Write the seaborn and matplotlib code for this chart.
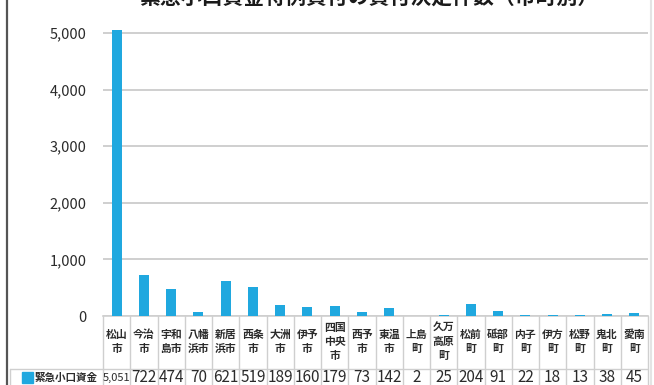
import matplotlib
matplotlib.use("Agg")
import matplotlib.pyplot as plt
from matplotlib.lines import Line2D
from matplotlib.patches import Rectangle
import seaborn as sns
import pandas as pd

# Municipalities (labels wrapped the way they appear in the table header)
municipalities = [
    "松山\n市", "今治\n市", "宇和\n島市", "八幡\n浜市", "新居\n浜市", "西条\n市",
    "大洲\n市", "伊予\n市", "四国\n中央\n市", "西予\n市", "東温\n市", "上島\n町",
    "久万\n高原\n町", "松前\n町", "砥部\n町", "内子\n町", "伊方\n町", "松野\n町",
    "鬼北\n町", "愛南\n町",
]
# Number of approved loan decisions (emergency small-amount fund)
loan_counts = [5051, 722, 474, 70, 621, 519, 189, 160, 179, 73,
               142, 2, 25, 204, 91, 22, 18, 13, 38, 45]
series_name = "緊急小口資金"
title = "緊急小口資金特例貸付の貸付決定件数（市町別）"
y_ticks = [0, 1000, 2000, 3000, 4000, 5000]

sns.set_theme(style="white")
plt.rcParams["font.family"] = ["Noto Sans CJK JP", "DejaVu Sans"]

BAR = "#20a8df"
GRID = "#cfcfcf"
TEXT = "#2b2b2b"

W, H = 654, 385
fig = plt.figure(figsize=(W / 100, H / 100), dpi=100)
fig.patch.set_facecolor("white")


def fx(x):
    return x / W


def fy(y):
    return 1 - y / H


left_px, right_px, top_px, bottom_px = 103, 648, 21.7, 316
ax = fig.add_axes([fx(left_px), fy(bottom_px), fx(right_px - left_px),
                   (bottom_px - top_px) / H])

df = pd.DataFrame({"市町": municipalities, "件数": loan_counts})
sns.barplot(data=df, x="市町", y="件数", color=BAR, width=0.36,
            saturation=1, linewidth=0, ax=ax)
for bar in ax.patches:
    bar.set_zorder(3)

n = len(municipalities)
ax.set_xlim(-0.5, n - 0.5)
ax.set_ylim(0, 5200)
ax.set_yticks(y_ticks)
ax.set_yticklabels([f"{v:,}" for v in y_ticks], fontsize=10.5, color=TEXT)
ax.tick_params(axis="y", length=0, pad=12)
ax.set_xticks([])
ax.set_xlabel("")
ax.set_ylabel("")
ax.yaxis.grid(True, color=GRID, linewidth=1.4)
ax.set_axisbelow(True)
for side in ("top", "right", "left"):
    ax.spines[side].set_visible(False)
ax.spines["bottom"].set_color(GRID)
ax.spines["bottom"].set_linewidth(1.2)

# Title (sits at the very top edge of the figure)
fig.text(fx(369), fy(-2), title, ha="center", va="center",
         fontsize=15, fontweight="bold", color="#1a1a1a")

# Data table under the axis
col_w = (right_px - left_px) / n
line_kw = dict(color=GRID, linewidth=1.0, transform=fig.transFigure)
for i in range(n + 1):
    x = left_px + i * col_w
    fig.add_artist(Line2D([fx(x), fx(x)], [fy(bottom_px), fy(H)], **line_kw))
fig.add_artist(Line2D([fx(10), fx(right_px)], [fy(369), fy(369)], **line_kw))
fig.add_artist(Line2D([fx(10), fx(10)], [fy(369), fy(H)], **line_kw))

for i, (name, val) in enumerate(zip(municipalities, loan_counts)):
    cx = left_px + (i + 0.5) * col_w
    fig.text(fx(cx), fy(342), name, ha="center", va="center", fontsize=7.8,
             fontweight="bold", color=TEXT, linespacing=1.55)
    small = val >= 1000
    fig.text(fx(cx), fy(377.5), f"{val:,}", ha="center", va="center",
             fontsize=8 if small else 11, color=TEXT)

# Series key in the row header
fig.add_artist(Rectangle((fx(22), fy(383)), fx(11), 11 / H,
                         transform=fig.transFigure, color=BAR))
fig.text(fx(35), fy(377.5), series_name, ha="left", va="center",
         fontsize=7.6, fontweight="bold", color=TEXT)

# Frame edges
fig.add_artist(Line2D([fx(6.5), fx(6.5)], [0, 1], color="#555555",
                      linewidth=1.6, transform=fig.transFigure))
fig.add_artist(Line2D([fx(651), fx(651)], [0, 1], color="#e4e4e4",
                      linewidth=1.5, transform=fig.transFigure))

fig.savefig("out.png", dpi=100)
